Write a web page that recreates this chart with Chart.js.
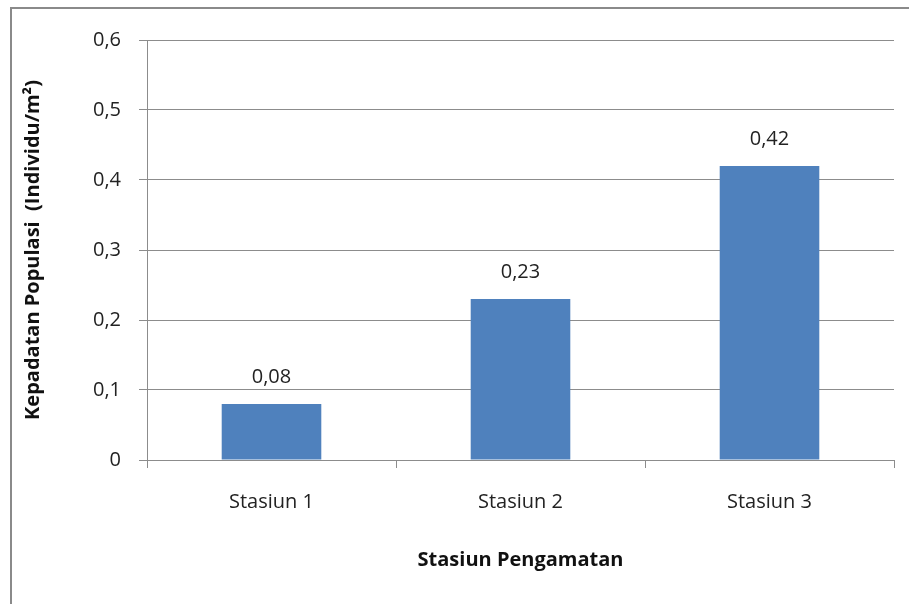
<!DOCTYPE html>
<html>
<head>
<meta charset="utf-8">
<script src="https://cdn.jsdelivr.net/npm/chart.js@4"></script>
<style>
  html, body { margin: 0; padding: 0; background: #fff; }
  #wrap { width: 909px; height: 604px; position: relative; }
</style>
</head>
<body>
<div id="wrap"><canvas id="densityChart"></canvas></div>
<script>
// --- Data ---
const stations = ['Stasiun 1', 'Stasiun 2', 'Stasiun 3'];
const density = [0.08, 0.23, 0.42];
const yTicks = [0, 0.1, 0.2, 0.3, 0.4, 0.5, 0.6];

const FONT = "'Open Sans', 'DejaVu Sans', sans-serif";
const SIZE = 20;

// outer frame around the whole chart
const framePlugin = {
    id: 'frame',
    beforeDraw(chart) {
        const c = chart.ctx;
        c.save();
        c.strokeStyle = '#8a8a8a';
        c.lineWidth = 2;
        c.strokeRect(11, 8, 1000, 1000);
        c.restore();
    }
};

// value labels above each bar
const valueLabels = {
    id: 'valueLabels',
    afterDatasetsDraw(chart) {
        const c = chart.ctx;
        const meta = chart.getDatasetMeta(0);
        c.save();
        c.font = SIZE + 'px ' + FONT;
        c.fillStyle = '#222';
        c.textAlign = 'center';
        c.textBaseline = 'alphabetic';
        meta.data.forEach((bar, i) => {
            const v = chart.data.datasets[0].data[i];
            c.fillText(v.toFixed(2).replace('.', ','), bar.x, bar.y - 21);
        });
        c.restore();
    }
};

const ctx = document.getElementById('densityChart').getContext('2d');
new Chart(ctx, {
    type: 'bar',
    data: {
        labels: stations,
        datasets: [{
            data: density,
            backgroundColor: '#4F81BD',
            borderWidth: 0,
            barPercentage: 0.4,
            categoryPercentage: 1
        }]
    },
    options: {
        responsive: true,
        maintainAspectRatio: false,
        animation: false,
        layout: { padding: { top: 40, right: 15, left: 0, bottom: 0 } },
        plugins: { legend: { display: false }, tooltip: { enabled: false } },
        scales: {
            x: {
                afterFit: (s) => { s.height = 144; },
                grid: { display: true, drawOnChartArea: false, offset: true, tickLength: 8, color: '#8c8c8c' },
                border: { color: '#8c8c8c' },
                ticks: { color: '#222', font: { family: FONT, size: SIZE }, padding: 22 },
                title: {
                    display: true,
                    text: 'Stasiun Pengamatan',
                    color: '#111',
                    font: { family: FONT, size: SIZE, weight: 'bold' },
                    padding: { top: 0, bottom: 32 }
                }
            },
            y: {
                min: 0,
                max: 0.6,
                afterFit: (s) => { s.width = 147; },
                afterBuildTicks: (s) => { s.ticks = yTicks.map(v => ({ value: v })); },
                grid: { color: '#8c8c8c', tickLength: 8 },
                border: { color: '#8c8c8c' },
                ticks: {
                    color: '#222',
                    font: { family: FONT, size: SIZE },
                    padding: 18,
                    callback: (v) => (v === 0 ? '0' : v.toFixed(1).replace('.', ','))
                },
                title: {
                    display: true,
                    text: 'Kepadatan Populasi  (Individu/m²)',
                    color: '#111',
                    font: { family: FONT, size: SIZE, weight: 'bold' },
                    padding: { top: 21, bottom: 0 }
                }
            }
        }
    },
    plugins: [framePlugin, valueLabels]
});
</script>
</body>
</html>
